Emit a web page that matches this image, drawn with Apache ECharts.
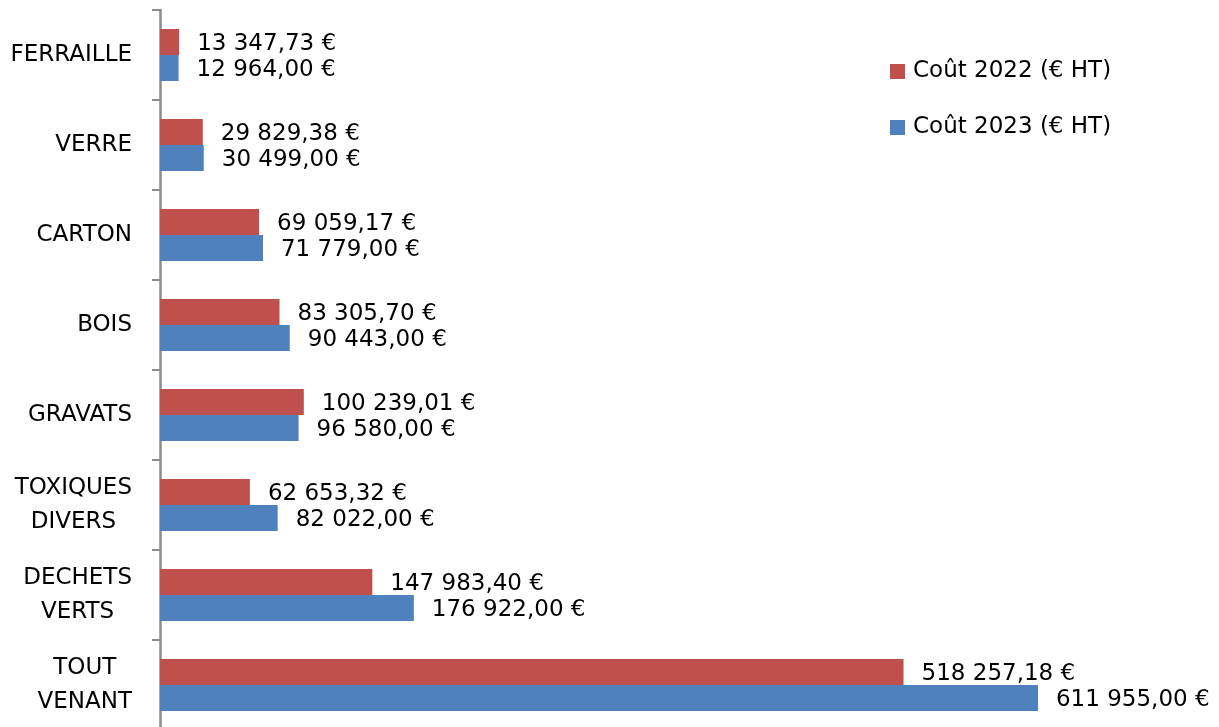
<!DOCTYPE html>
<html>
<head>
<meta charset="utf-8">
<script src="https://cdn.jsdelivr.net/npm/echarts@6/dist/echarts.min.js"></script>
<style>
  html, body { margin: 0; padding: 0; background: #fff; }
  #chart { width: 1219px; height: 727px; }
</style>
</head>
<body>
<div id="chart"></div>
<script>
const categories = ["FERRAILLE", "VERRE", "CARTON", "BOIS", "GRAVATS", "TOXIQUES\nDIVERS", "DECHETS\nVERTS", "TOUT\nVENANT"];
const cost2022 = [13347.73, 29829.38, 69059.17, 83305.70, 100239.01, 62653.32, 147983.40, 518257.18];
const cost2023 = [12964.00, 30499.00, 71779.00, 90443.00, 96580.00, 82022.00, 176922.00, 611955.00];
const seriesNames = ["Coût 2022 (€ HT)", "Coût 2023 (€ HT)"];

const FONT = "DejaVu Sans";
const FS = 23;

// 12345.6 -> "12 345,60 €"
function euro(v) {
  const parts = v.toFixed(2).split(".");
  const int = parts[0].replace(/\B(?=(\d{3})+(?!\d))/g, " ");
  return int + "," + parts[1] + " €";
}

const chart = echarts.init(document.getElementById("chart"));

function barSeries(name, data, color) {
  return {
    name: name,
    type: "bar",
    data: data,
    barWidth: 26,
    barGap: "0%",
    itemStyle: { color: color },
    label: {
      show: true,
      position: "right",
      distance: 18,
      offset: [0, 2],
      color: "#000",
      fontFamily: FONT,
      fontSize: FS,
      formatter: (p) => euro(p.value),
    },
  };
}

chart.setOption({
  animation: false,
  grid: { left: 160, right: 59, top: 10, height: 720, outerBoundsMode: "none" },
  legend: {
    orient: "vertical",
    left: 890,
    top: 60,
    padding: 0,
    itemWidth: 15,
    itemHeight: 15,
    itemGap: 33,
    icon: "rect",
    textStyle: { color: "#000", fontFamily: FONT, fontSize: FS, padding: [0, 0, 0, 3] },
    data: seriesNames,
  },
  xAxis: {
    type: "value",
    min: 0,
    max: 697000,
    show: false,
  },
  yAxis: {
    type: "category",
    data: categories,
    inverse: true,
    axisLine: { show: true, lineStyle: { color: "#8c8c8c", width: 2.5 } },
    axisTick: { show: true, inside: false, length: 8, lineStyle: { color: "#8c8c8c", width: 2 } },
    axisLabel: {
      margin: 28,
      color: "#000",
      fontFamily: FONT,
      fontSize: FS,
      lineHeight: 34,
      formatter: (v) => v.split("\n").map((s) => "{c|" + s + "}").join("\n"),
      rich: { c: { align: "center", fontFamily: FONT, fontSize: FS, lineHeight: 34, color: "#000" } },
    },
  },
  series: [
    barSeries(seriesNames[0], cost2022, "#C0504D"),
    barSeries(seriesNames[1], cost2023, "#4F81BD"),
  ],
});
</script>
</body>
</html>
